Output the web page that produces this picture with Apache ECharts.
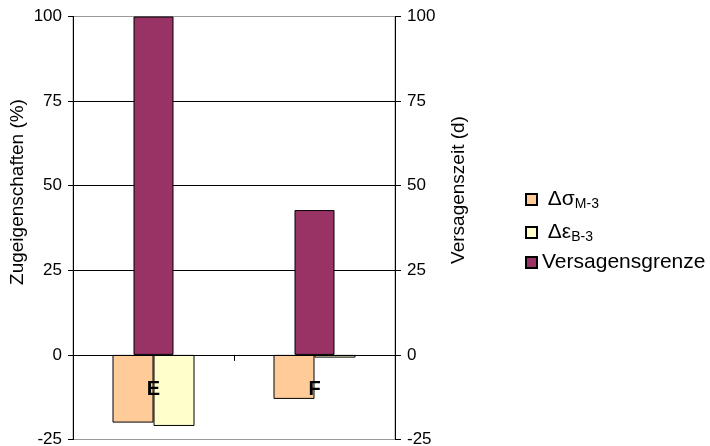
<!DOCTYPE html>
<html>
<head>
<meta charset="utf-8">
<script src="https://cdn.jsdelivr.net/npm/echarts@6/dist/echarts.min.js"></script>
<style>html,body{margin:0;padding:0;background:#fff}#c{width:710px;height:446px}</style>
</head>
<body>
<div id="c"></div>
<script>
var categories = ['E', 'F'];
var dSigma = [-20.0, -13.0];
var dEps = [-21.0, -0.8];
var versagen = [100, 42.8];
var yTicks = [-25, 0, 25, 50, 75, 100];

var chart = echarts.init(document.getElementById('c'), null, {renderer: 'canvas'});
var FONT = 'Liberation Sans, Arial, sans-serif';
var legendRich = {
  g: {fontFamily: FONT, fontSize: 21, color: '#000'},
  s: {fontFamily: FONT, fontSize: 14, color: '#000', padding: [10,0,0,0]},
  n: {fontFamily: FONT, fontSize: 21, color: '#000'}
};
function legendFmt(name) {
  if (name === 'dsM3') return '{g| Δσ}{s|M-3}';
  if (name === 'deB3') return '{g| Δε}{s|B-3}';
  return '{n|' + name + '}';
}
function mkLegend(name, top) {
  return {
    data: [name], left: 525, top: top, orient: 'vertical',
    itemWidth: 11, itemHeight: 11, itemGap: 0, icon: 'rect', padding: 0,
    formatter: legendFmt, textStyle: {rich: legendRich, fontFamily: FONT, fontSize: 21, color: '#000'},
    selectedMode: false
  };
}
var option = {
  animation: false,
  backgroundColor: '#fff',
  legend: [mkLegend('dsM3', 189), mkLegend('deB3', 222), mkLegend('Versagensgrenze', 252)],
  grid: {left: 73, right: 315, top: 16.5, bottom: 6.5, containLabel: false, outerBoundsMode: 'none',
         show: true, borderColor: '#999', borderWidth: 1, backgroundColor: 'transparent'},
  xAxis: [{
    type: 'category', data: categories, z: 10,
    axisLine: {onZero: true, lineStyle: {color: '#000', width: 1}},
    axisTick: {show: true, length: 6, inside: false, lineStyle: {color: '#000'}},
    axisLabel: {margin: -60, fontFamily: FONT, fontWeight: 'bold', fontSize: 20, color: '#000'},
    splitLine: {show: false}
  }, {
    type: 'category', data: categories, show: false
  }],
  yAxis: [{
    type: 'value', min: -25, max: 100, interval: 25, position: 'left',
    name: 'Zugeigenschaften (%)', nameLocation: 'middle', nameRotate: 90, nameGap: 46,
    nameTextStyle: {fontFamily: FONT, fontSize: 19, color: '#000', padding: [0, 0, 0, 72]},
    axisLine: {show: true, lineStyle: {color: '#000'}},
    axisTick: {show: true, length: 5, lineStyle: {color: '#000'}},
    axisLabel: {margin: 11, fontFamily: FONT, fontSize: 17, color: '#000'},
    splitLine: {show: true, showMinLine: false, showMaxLine: false, lineStyle: {color: '#000', width: 1}}
  }, {
    type: 'value', min: -25, max: 100, interval: 25, position: 'right',
    name: 'Versagenszeit (d)', nameLocation: 'middle', nameRotate: 90, nameGap: 54,
    nameTextStyle: {fontFamily: FONT, fontSize: 19, color: '#000', padding: [0, 0, 0, 76]},
    axisLine: {show: true, onZero: false, lineStyle: {color: '#000'}},
    axisTick: {show: true, length: 6, lineStyle: {color: '#000'}},
    axisLabel: {margin: 12, fontFamily: FONT, fontSize: 17, color: '#000'},
    splitLine: {show: false}
  }],
  series: [{
    name: 'Versagensgrenze', type: 'bar', xAxisIndex: 1, yAxisIndex: 1, data: versagen,
    barWidth: 40, itemStyle: {color: '#993366', borderColor: '#000', borderWidth: 1}
  }, {
    name: 'dsM3', type: 'bar', xAxisIndex: 0, yAxisIndex: 0, data: dSigma,
    barWidth: 41, barGap: '0%', itemStyle: {color: '#FFCC99', borderColor: '#000', borderWidth: 1}
  }, {
    name: 'deB3', type: 'bar', xAxisIndex: 0, yAxisIndex: 0, data: dEps,
    barWidth: 41, barGap: '0%', itemStyle: {color: '#FFFFCC', borderColor: '#000', borderWidth: 1}
  }]
};
chart.setOption(option);
</script>
</body>
</html>
